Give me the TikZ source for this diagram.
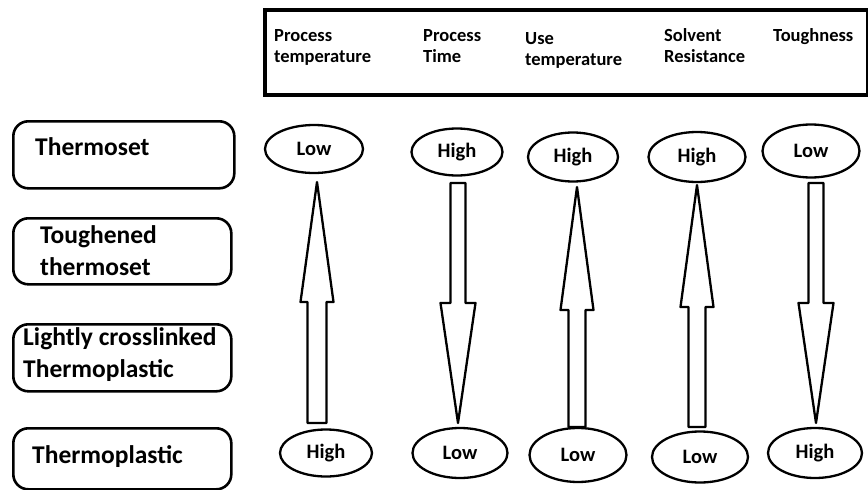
\documentclass[tikz,border=0pt]{standalone}
\usepackage{fontspec}
\setmainfont{Carlito}
\usetikzlibrary{shapes.geometric,calc}
\newcommand\blockarrow[5]{% tail, tip, head base, shaft half width, head half width
  \draw[barrow] ($(#1)+(-#4,0)$) -- ($(#3)+(-#4,0)$) -- ($(#3)+(-#5,0)$) -- (#2)
    -- ($(#3)+(#5,0)$) -- ($(#3)+(#4,0)$) -- ($(#1)+(#4,0)$) -- cycle;}
\begin{document}
\begin{tikzpicture}[x=1pt,y=-1pt,
  ell/.style={draw, ellipse, line width=2.3pt, inner sep=0pt,
    font=\bfseries\fontsize{20.5}{22}\selectfont},
  matbox/.style={draw, line width=2.6pt, rounded corners=15pt, anchor=north west,
    inner sep=0pt},
  mattext/.style={font=\bfseries\fontsize{25.5}{32}\selectfont, align=left, inner sep=0pt},
  headtext/.style={font=\bfseries\fontsize{18.5}{21}\selectfont, align=left, inner sep=0pt,
    anchor=base west},
  barrow/.style={draw, line width=2.3pt, fill=white, line join=round}]
\useasboundingbox (0,0) rectangle (868,490);
\clip (0,0) rectangle (868,490);

% header box
\node[draw, line width=3.5pt, anchor=north west, minimum width=603, minimum height=85,
  inner sep=0pt] (hdr) at (263,8) {};
\node[headtext] (h1) at (274,62) {Process\\temperature};
\node[headtext] (h2) at (423,62) {Process\\Time};
\node[headtext] (h3) at (525,65) {Use\\temperature};
\node[headtext] (h4) at (664,62) {Solvent\\Resistance};
\node[headtext] (h5) at (773,41) {Toughness};

% material boxes
\node[matbox, minimum width=221, minimum height=67] (b1) at (12,120) {};
\node[matbox, minimum width=218, minimum height=66] (b2) at (12,217) {};
\node[matbox, minimum width=218, minimum height=67] (b3) at (12,323) {};
\node[matbox, minimum width=218, minimum height=61] (b4) at (12,427) {};
\node[mattext, anchor=base west] (m1) at (35,155) {Thermoset};
\node[mattext, anchor=base west] (m2) at (40,275) {Toughened\\thermoset};
\node[mattext, anchor=base west] (m3) at (23,377) {Lightly crosslinked\\Thermoplastic};
\node[mattext, anchor=base west] (m4) at (32,463) {Thermoplastic};

% ellipses top
\node[ell, minimum width=98, minimum height=48] (t1) at (314,149) {Low};
\node[ell, minimum width=91, minimum height=47] (t2) at (457,152) {High};
\node[ell, minimum width=90, minimum height=49] (t3) at (573,157) {High};
\node[ell, minimum width=97, minimum height=50] (t4) at (697,157) {High};
\node[ell, minimum width=97, minimum height=53] (t5) at (811,151) {Low};
% ellipses bottom
\node[ell, minimum width=92, minimum height=47] (u1) at (326,453) {High};
\node[ell, minimum width=95, minimum height=50] (u2) at (460,453) {Low};
\node[ell, minimum width=97, minimum height=54] (u3) at (578,455) {Low};
\node[ell, minimum width=96, minimum height=51] (u4) at (700,457) {Low};
\node[ell, minimum width=94, minimum height=50] (u5) at (815,453) {High};

% arrow coordinates
\coordinate (a1tail) at (317,423); \coordinate (a1base) at (317,302); \coordinate (a1tip) at (317,182);
\coordinate (a2tail) at (458,183); \coordinate (a2base) at (458,303); \coordinate (a2tip) at (458,423);
\coordinate (a3tail) at (577,427); \coordinate (a3base) at (577,310); \coordinate (a3tip) at (577,187);
\coordinate (a4tail) at (697,427); \coordinate (a4base) at (697,307); \coordinate (a4tip) at (697,185);
\coordinate (a5tail) at (816,183); \coordinate (a5base) at (816,303); \coordinate (a5tip) at (816,423);

\blockarrow{a1tail}{a1tip}{a1base}{9.5}{16.5}
\blockarrow{a2tail}{a2tip}{a2base}{7.5}{17.5}
\blockarrow{a3tail}{a3tip}{a3base}{8.5}{16.5}
\blockarrow{a4tail}{a4tip}{a4base}{8.5}{16.5}
\blockarrow{a5tail}{a5tip}{a5base}{7.5}{17.5}
\end{tikzpicture}
\end{document}
